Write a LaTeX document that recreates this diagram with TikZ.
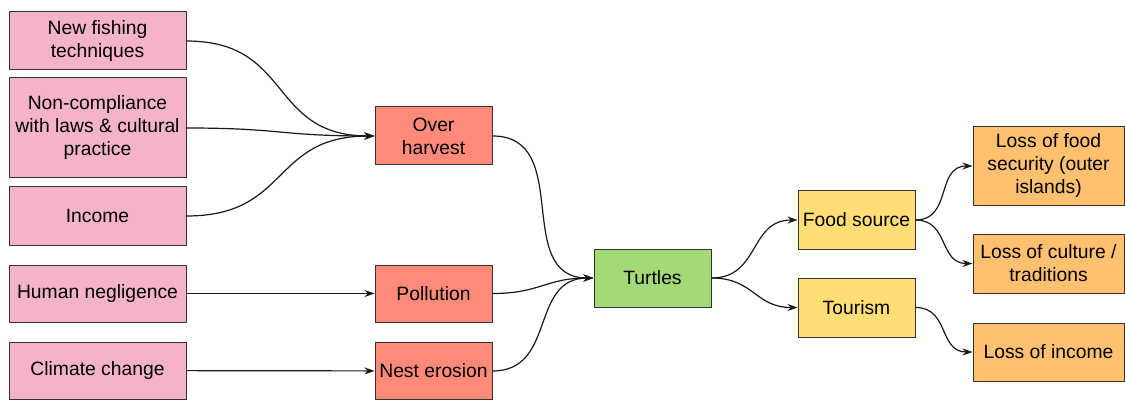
\documentclass[tikz,border=0pt]{standalone}
\usepackage{fontspec}
\setmainfont{Liberation Sans}
\usetikzlibrary{arrows.meta}
\definecolor{causepink}{RGB}{244,179,200}
\definecolor{threatred}{RGB}{255,138,122}
\definecolor{turtlegreen}{RGB}{163,217,119}
\definecolor{useyellow}{RGB}{255,222,117}
\definecolor{lossorange}{RGB}{255,192,112}
\begin{document}
\begin{tikzpicture}[x=1pt,y=-1pt,
    box/.style={draw=black!80,line width=1pt,rectangle,align=center,inner sep=2pt,
      font=\fontsize{19.3}{23}\selectfont},
    cause/.style={box,fill=causepink,minimum width=177pt,minimum height=58pt},
    threat/.style={box,fill=threatred,minimum width=117pt,minimum height=58pt},
    use/.style={box,fill=useyellow,minimum width=117pt,minimum height=58pt},
    loss/.style={box,fill=lossorange,minimum width=151pt,minimum height=58pt},
    link/.style={->,>={Stealth[length=10pt,width=7pt]},line width=1.2pt,black!90}]
    \useasboundingbox (0,0) rectangle (1125,401);
    \node[cause] (fish) at (97.5,41) {New fishing\\techniques};
    \node[cause,minimum height=100pt] (comply) at (97.5,128) {Non-compliance\\with laws \& cultural\\practice};
    \node[cause] (income) at (97.5,216) {Income};
    \node[cause,minimum height=57pt] (neglect) at (97.5,293.5) {Human negligence};
    \node[cause,minimum height=57pt] (climate) at (97.5,370.5) {Climate change};
    \node[threat] (harvest) at (433.5,136) {Over\\harvest};
    \node[threat,minimum height=57pt] (pollution) at (433.5,293.5) {Pollution};
    \node[threat,minimum height=57pt] (erosion) at (433.5,371) {Nest erosion};
    \node[box,fill=turtlegreen,minimum width=117pt,minimum height=58pt] (turtles) at (652.5,278) {Turtles};
    \node[use] (food) at (856.5,220) {Food source};
    \node[use,minimum height=59pt] (tourism) at (856.5,307.5) {Tourism};
    \node[loss,minimum height=78pt] (security) at (1048.5,166) {Loss of food\\security (outer\\islands)};
    \node[loss,minimum height=59pt] (culture) at (1048.5,263.5) {Loss of culture /\\traditions};
    \node[loss] (lincome) at (1048.5,352) {Loss of income};
    \foreach \a in {fish,comply,income}
    \draw[link] (\a.east) to[out=0,in=180,looseness=1.3] (harvest.west);
    \draw[link] (neglect) -- (pollution);
    \draw[link] (climate) -- (erosion);
    \foreach \a in {harvest,pollution,erosion}
    \draw[link] (\a.east) to[out=0,in=180,looseness=1.2] (turtles.west);
    \foreach \b in {food,tourism}
    \draw[link] (turtles.east) to[out=0,in=180,looseness=1.2] (\b.west);
    \foreach \b in {security,culture}
    \draw[link] (food.east) to[out=0,in=180,looseness=1.2] (\b.west);
    \draw[link] (tourism.east) to[out=0,in=180,looseness=1.2] (lincome.west);
\end{tikzpicture}
\end{document}
